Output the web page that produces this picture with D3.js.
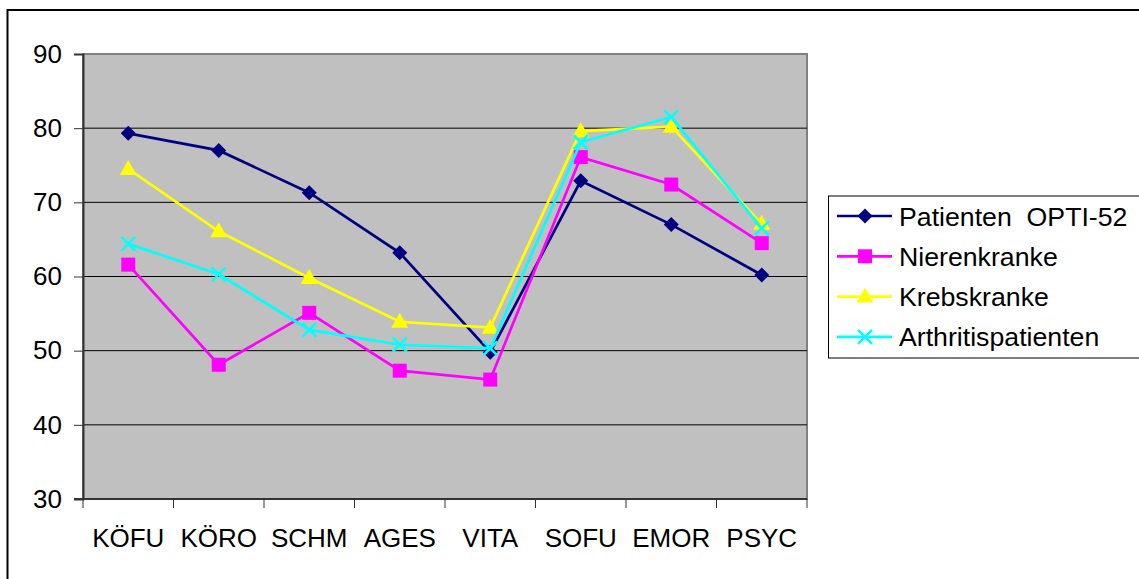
<!DOCTYPE html>
<html>
<head>
<meta charset="utf-8">
<script src="https://cdn.jsdelivr.net/npm/d3@7"></script>
<style>
  body { margin: 0; background: #fff; }
  svg { display: block; font-family: "Liberation Sans", Arial, sans-serif; }
</style>
</head>
<body>
<svg id="chart" width="1139" height="579"></svg>
<script>
// data
var categories = ["KÖFU", "KÖRO", "SCHM", "AGES", "VITA", "SOFU", "EMOR", "PSYC"];
var seriesNames = ["Patienten  OPTI-52", "Nierenkranke", "Krebskranke", "Arthritispatienten"];
var patienten = [79.3, 77.0, 71.3, 63.2, 49.8, 72.9, 67.0, 60.2];
var nieren    = [61.6, 48.1, 55.1, 47.3, 46.1, 76.1, 72.4, 64.5];
var krebs     = [74.5, 66.1, 59.8, 53.9, 53.1, 79.6, 80.2, 67.1];
var arthritis = [64.4, 60.3, 52.8, 50.8, 50.3, 78.1, 81.5, 66.5];
var yTicks = [30, 40, 50, 60, 70, 80, 90];

var seriesValues = [patienten, nieren, krebs, arthritis];
var colors = ["#000080", "#FF00FF", "#FFFF00", "#00FFFF"];
var markers = ["diamond", "square", "triangle", "cross"];

var svg = d3.select("#chart");
var pL = 83, pR = 807, pT = 54, pB = 499;
var fs = 26;

// outer chart border (runs off the right/bottom edge)
svg.append("rect")
    .attr("x", 7.5).attr("y", 10)
    .attr("width", 1200).attr("height", 700)
    .attr("fill", "#fff").attr("stroke", "#000").attr("stroke-width", 2);

var x = d3.scaleBand().domain(categories).range([pL, pR]).paddingInner(0).paddingOuter(0);
var y = d3.scaleLinear().domain([30, 90]).range([pB, pT]);

// plot area
svg.append("rect")
    .attr("x", pL).attr("y", pT)
    .attr("width", pR - pL).attr("height", pB - pT)
    .attr("fill", "#C0C0C0").attr("stroke", "#808080").attr("stroke-width", 2);

// gridlines
svg.append("g").selectAll("line")
    .data(yTicks.filter(function(d){ return d > 30 && d < 90; }))
    .enter().append("line")
    .attr("x1", pL).attr("x2", pR)
    .attr("y1", function(d){ return y(d); }).attr("y2", function(d){ return y(d); })
    .attr("stroke", "#000").attr("stroke-width", 1);

// y axis
var yAxis = svg.append("g")
    .attr("transform", "translate(" + pL + ",0)")
    .call(d3.axisLeft(y).tickValues(yTicks).tickSize(9).tickPadding(12));
yAxis.select(".domain").attr("stroke", "#333").attr("stroke-width", 2);
yAxis.selectAll(".tick line").attr("stroke", "#333");
yAxis.selectAll("text").attr("font-size", fs).attr("fill", "#000")
    .attr("font-family", "Liberation Sans, Arial, sans-serif");

// x axis (ticks on category boundaries)
var xAxis = svg.append("g")
    .attr("transform", "translate(0," + pB + ")");
xAxis.append("line")
    .attr("x1", pL - 9).attr("x2", pR)
    .attr("stroke", "#333").attr("stroke-width", 2);
var bounds = categories.map(function(c){ return x(c); }).concat([pR]);
xAxis.selectAll(".tk").data(bounds).enter().append("line")
    .attr("class", "tk")
    .attr("x1", function(d){ return d; }).attr("x2", function(d){ return d; })
    .attr("y1", 0).attr("y2", 9)
    .attr("stroke", "#333").attr("stroke-width", 1);
xAxis.selectAll(".lbl").data(categories).enter().append("text")
    .attr("class", "lbl")
    .attr("x", function(d){ return x(d) + x.bandwidth() / 2; })
    .attr("y", 48)
    .attr("text-anchor", "middle")
    .attr("font-size", fs)
    .text(function(d){ return d; });

function drawMarker(g, type, color, cx, cy) {
  if (type == "diamond") {
    g.append("path").attr("d", "M" + cx + "," + (cy - 7.5) + "L" + (cx + 7.5) + "," + cy + "L" + cx + "," + (cy + 7.5) + "L" + (cx - 7.5) + "," + cy + "Z")
      .attr("fill", color);
  } else if (type == "square") {
    g.append("rect").attr("x", cx - 7).attr("y", cy - 7).attr("width", 14).attr("height", 14).attr("fill", color);
  } else if (type == "triangle") {
    g.append("path").attr("d", "M" + cx + "," + (cy - 9) + "L" + (cx + 8.5) + "," + (cy + 6) + "L" + (cx - 8.5) + "," + (cy + 6) + "Z")
      .attr("fill", color);
  } else {
    g.append("path").attr("d", "M" + (cx - 7) + "," + (cy - 7) + "L" + (cx + 7) + "," + (cy + 7) + "M" + (cx + 7) + "," + (cy - 7) + "L" + (cx - 7) + "," + (cy + 7))
      .attr("stroke", color).attr("stroke-width", 2.5).attr("fill", "none");
  }
}

var line = d3.line()
    .x(function(d, i){ return x(categories[i]) + x.bandwidth() / 2; })
    .y(function(d){ return y(d); });

seriesValues.forEach(function(vals, s) {
  var g = svg.append("g");
  g.append("path").datum(vals)
    .attr("d", line)
    .attr("fill", "none")
    .attr("stroke", colors[s])
    .attr("stroke-width", 2.7);
  vals.forEach(function(v, i) {
    drawMarker(g, markers[s], colors[s], x(categories[i]) + x.bandwidth() / 2, y(v));
  });
});

// legend
var lg = svg.append("g");
lg.append("rect")
    .attr("x", 828.5).attr("y", 196)
    .attr("width", 400).attr("height", 162)
    .attr("fill", "#fff").attr("stroke", "#000").attr("stroke-width", 1);
seriesNames.forEach(function(name, s) {
  var cy = 216 + s * 40.3;
  lg.append("line").attr("x1", 837).attr("x2", 892).attr("y1", cy).attr("y2", cy)
    .attr("stroke", colors[s]).attr("stroke-width", 2.7);
  drawMarker(lg, markers[s], colors[s], 865, cy);
  lg.append("text")
    .attr("x", 899).attr("y", cy + 9.5)
    .attr("font-size", 26.7)
    .style("white-space", "pre")
    .text(name);
});
</script>
</body>
</html>
